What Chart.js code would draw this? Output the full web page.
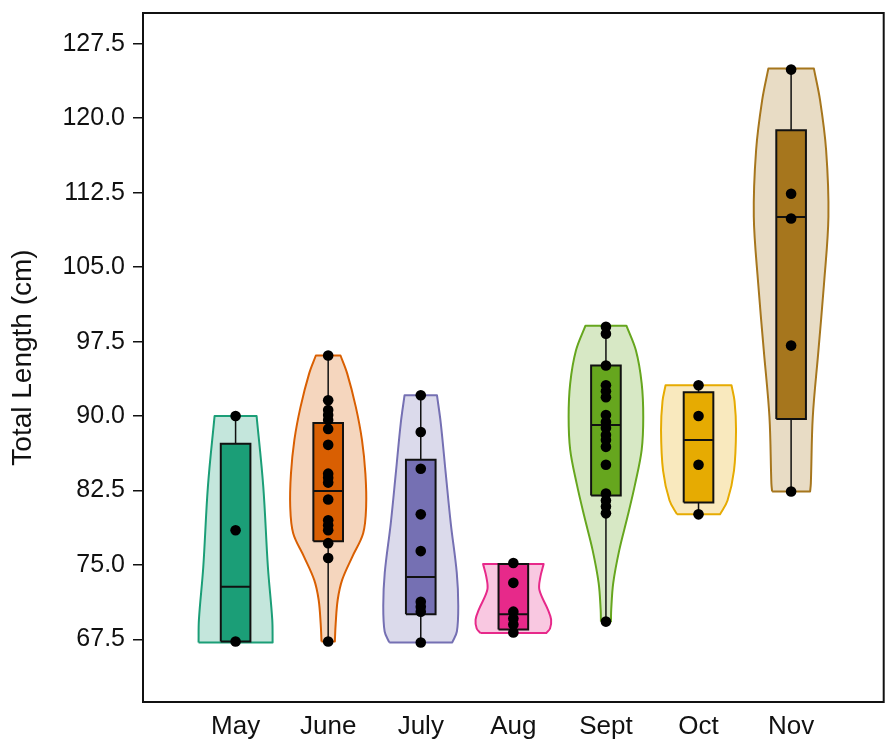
<!DOCTYPE html>
<html>
<head>
<meta charset="utf-8">
<script src="https://cdn.jsdelivr.net/npm/chart.js@4"></script>
<style>
  html, body { margin: 0; padding: 0; background: #ffffff; }
  #wrap { width: 889px; height: 744px; }
</style>
</head>
<body>
<div id="wrap"><canvas id="c" width="889" height="744"></canvas></div>
<script>
// ---- Data ----
const months = ['May', 'June', 'July', 'Aug', 'Sept', 'Oct', 'Nov'];
const colors = ['#1B9E77', '#D95F02', '#7570B3', '#E7298A', '#66A61E', '#E6AB02', '#A6761D'];
const yTicks = [67.5, 75.0, 82.5, 90.0, 97.5, 105.0, 112.5, 120.0, 127.5];

// individual observations (Total Length, cm)
const mayPts  = [90.0, 78.5, 67.3];
const junePts = [96.1, 91.6, 90.6, 90.1, 89.6, 88.7, 87.1, 84.2, 83.8, 83.3, 81.6, 79.5, 79.0, 78.5, 77.2, 75.7, 67.3];
const julyPts = [92.1, 88.4, 84.7, 80.1, 76.4, 71.3, 70.8, 70.3, 67.2];
const augPts  = [75.2, 73.2, 70.3, 69.6, 69.0, 68.2];
const septPts = [99.0, 98.3, 95.1, 93.1, 92.5, 91.9, 90.1, 89.4, 88.8, 88.1, 87.6, 86.9, 85.1, 82.2, 81.5, 80.9, 80.2, 69.3];
const octPts  = [93.1, 90.0, 85.1, 80.1];
const novPts  = [124.9, 112.4, 109.9, 97.1, 82.4];

// box statistics: [min, q1, median, q3, max]
const mayBox  = [67.3, 67.3, 72.8, 87.2, 90.0];
const juneBox = [67.3, 77.4, 82.45, 89.3, 96.1];
const julyBox = [67.2, 70.05, 73.8, 85.6, 92.1];
const augBox  = [68.2, 68.5, 70.05, 75.1, 75.2];
const septBox = [69.3, 82.0, 89.1, 95.1, 99.0];
const octBox  = [80.1, 81.3, 87.6, 92.4, 93.1];
const novBox  = [82.4, 89.7, 110.05, 118.8, 124.9];

// violin outlines: y levels (cm) and half-widths (in category units)
const mayLev  = [67.2, 69.5, 74.8, 82.9, 90.0];
const mayHw   = [0.40, 0.396, 0.349, 0.299, 0.227];
const juneLev = [67.3, 69.1, 71.5, 73.5, 75.8, 78.2, 80.9, 84.2, 87.6, 90.9, 94.3, 96.1];
const juneHw  = [0.072, 0.081, 0.103, 0.151, 0.259, 0.378, 0.41, 0.402, 0.365, 0.299, 0.205, 0.133];
const julyLev = [67.2, 68.3, 70.9, 74.2, 79.2, 84.2, 89.3, 92.1];
const julyHw  = [0.34, 0.39, 0.405, 0.389, 0.324, 0.27, 0.216, 0.175];
const augLev  = [68.15, 68.6, 69.5, 70.5, 72.5, 73.8, 75.1];
const augHw   = [0.356, 0.396, 0.408, 0.373, 0.281, 0.292, 0.327];
const septLev = [69.3, 70.5, 73.2, 76.5, 79.9, 83.2, 86.6, 89.9, 93.3, 96.6, 99.1];
const septHw  = [0.054, 0.057, 0.079, 0.144, 0.234, 0.316, 0.386, 0.403, 0.386, 0.324, 0.221];
const octLev  = [80.1, 81.5, 84.5, 88.6, 91.5, 93.1];
const octHw   = [0.232, 0.313, 0.383, 0.405, 0.389, 0.356];
const novLev  = [82.4, 83.2, 89.9, 96.6, 103.4, 110.1, 116.8, 121.8, 125.0];
const novHw   = [0.205, 0.213, 0.234, 0.295, 0.356, 0.403, 0.378, 0.313, 0.246];

// ---- Build datasets from the arrays ----
const pts   = [mayPts, junePts, julyPts, augPts, septPts, octPts, novPts];
const boxes = [mayBox, juneBox, julyBox, augBox, septBox, octBox, novBox];
const levs  = [mayLev, juneLev, julyLev, augLev, septLev, octLev, novLev];
const hws   = [mayHw, juneHw, julyHw, augHw, septHw, octHw, novHw];
const BOX_HALF = 0.16;

function alpha(hex, a) {
  const n = parseInt(hex.slice(1), 16);
  return `rgba(${(n >> 16) & 255},${(n >> 8) & 255},${n & 255},${a})`;
}

const datasets = [];
months.forEach((m, i) => {
  const c = i + 1;
  const lev = levs[i], hw = hws[i], n = lev.length;
  // violin outline: up the left side, across the top, down the right side, across the bottom
  const outline = [];
  for (let k = 0; k < n; k++) outline.push({x: c - hw[k], y: lev[k]});
  outline.push({x: c - hw[n - 1], y: lev[n - 1]});
  outline.push({x: c + hw[n - 1], y: lev[n - 1]});
  for (let k = n - 1; k >= 0; k--) outline.push({x: c + hw[k], y: lev[k]});
  outline.push({x: c + hw[0], y: lev[0]});
  outline.push({x: c - hw[0], y: lev[0]});
  datasets.push({
    type: 'line', data: outline, order: 4,
    borderColor: colors[i], borderWidth: 2, backgroundColor: alpha(colors[i], 0.26),
    fill: 'shape', tension: 0.35, pointRadius: 0, borderJoinStyle: 'round'
  });
  const b = boxes[i];
  // whisker
  datasets.push({
    type: 'line', data: [{x: c, y: b[0]}, {x: c, y: b[4]}], order: 3,
    borderColor: '#111', borderWidth: 1.5, pointRadius: 0, fill: false, tension: 0
  });
  // box
  datasets.push({
    type: 'line', order: 2,
    data: [{x: c - BOX_HALF, y: b[1]}, {x: c - BOX_HALF, y: b[3]}, {x: c + BOX_HALF, y: b[3]},
           {x: c + BOX_HALF, y: b[1]}, {x: c - BOX_HALF, y: b[1]}],
    borderColor: '#111', borderWidth: 2, backgroundColor: colors[i],
    fill: 'shape', tension: 0, pointRadius: 0, borderJoinStyle: 'miter'
  });
  // median
  datasets.push({
    type: 'line', order: 1,
    data: [{x: c - BOX_HALF, y: b[2]}, {x: c + BOX_HALF, y: b[2]}],
    borderColor: '#111', borderWidth: 2, pointRadius: 0, fill: false, tension: 0
  });
  // observations
  datasets.push({
    type: 'line', order: 0, showLine: false,
    data: pts[i].map(v => ({x: c, y: v})),
    pointRadius: 5.3, pointBackgroundColor: '#000', pointBorderColor: '#000', pointBorderWidth: 0
  });
});

const framePlugin = {
  id: 'frame',
  afterDatasetsDraw(chart) {
    const {ctx, chartArea: a} = chart;
    ctx.save();
    ctx.strokeStyle = '#111';
    ctx.lineWidth = 2;
    ctx.strokeRect(a.left, a.top, a.right - a.left, a.bottom - a.top);
    ctx.restore();
  }
};

const FONT = "'Liberation Sans', Arial, Helvetica, sans-serif";

new Chart(document.getElementById('c'), {
  type: 'line',
  data: { datasets },
  plugins: [framePlugin],
  options: {
    responsive: false,
    animation: false,
    layout: { padding: { top: 13, right: 5, left: 0, bottom: 0 } },
    plugins: { legend: { display: false }, tooltip: { enabled: false } },
    scales: {
      x: {
        type: 'linear', min: 0, max: 8,
        afterBuildTicks: ax => { ax.ticks = months.map((m, i) => ({value: i + 1})); },
        afterFit: ax => { ax.height = 42; ax.paddingLeft = 0; ax.paddingRight = 0; },
        ticks: {
          callback: v => months[v - 1] || '',
          color: '#111', font: { family: FONT, size: 26 }, padding: 9, maxRotation: 0, autoSkip: false
        },
        grid: { display: false, drawTicks: false },
        border: { display: false }
      },
      y: {
        type: 'linear', min: 61.2, max: 130.6,
        afterBuildTicks: ax => { ax.ticks = yTicks.map(v => ({value: v})); },
        afterFit: ax => { ax.width = 143; ax.paddingTop = 0; ax.paddingBottom = 0; },
        ticks: {
          callback: v => Number(v).toFixed(1),
          color: '#111', font: { family: FONT, size: 25 }, padding: 8
        },
        grid: { display: true, drawOnChartArea: false, drawTicks: true, tickLength: 10, color: '#111', lineWidth: 1.5 },
        border: { display: false },
        title: {
          display: true, text: 'Total Length (cm)', color: '#111',
          font: { family: FONT, size: 28 }, padding: { top: 6, bottom: 0 }
        }
      }
    }
  }
});
</script>
</body>
</html>
